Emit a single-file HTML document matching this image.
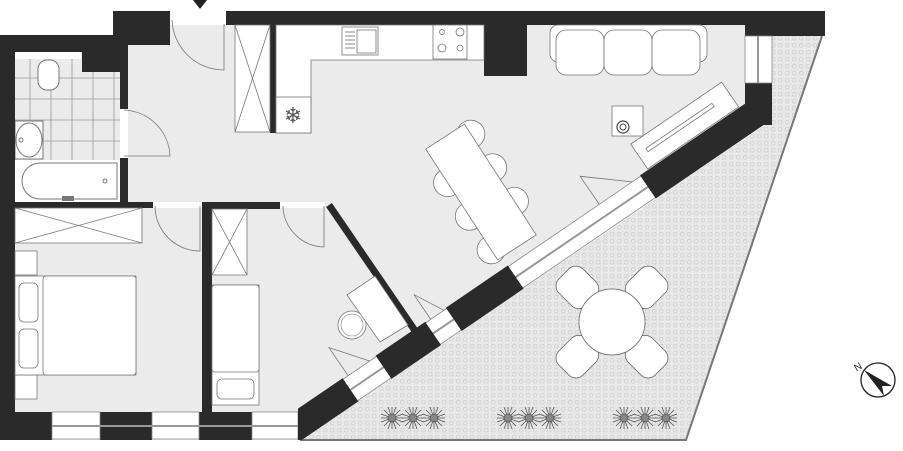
<!DOCTYPE html>
<html><head><meta charset="utf-8"><style>html,body{margin:0;padding:0;background:#fff}svg{display:block}</style></head>
<body>
<svg width="903" height="451" viewBox="0 0 903 451" xmlns="http://www.w3.org/2000/svg">
<defs>
<pattern id="tp" width="7" height="7" patternUnits="userSpaceOnUse">
<rect width="7" height="7" fill="#e8e8e8"/>
<rect x="1.5" y="1.5" width="3.5" height="3.5" rx="1" fill="none" stroke="#cfcfcf" stroke-width="0.7"/>
</pattern>
<clipPath id="cl"><rect x="298" y="0" width="474" height="440"/></clipPath>
<g id="chair"><path d="M0,0 a14,14 0 1,0 0,-0.01" fill="#fff" stroke="#777" stroke-width="0.8"/></g>
<g id="plant" stroke="#555" stroke-width="0.8" fill="none">
<path d="M0,-11 L0,11 M-11,0 L11,0 M-8,-8 L8,8 M-8,8 L8,-8 M-4,-11 L4,11 M4,-11 L-4,11 M-11,-4 L11,4 M-11,4 L11,-4"/>
<circle r="4" fill="#888"/>
</g>
</defs>
<polygon points="128,25 745,25 745,115 300,440 15,440 15,52 128,52" fill="#ebebeb"/>
<rect x="15" y="52" width="105" height="150" fill="#ebebeb"/>
<g stroke="#9a9a9a" stroke-width="0.8">
<line x1="30" y1="58" x2="30" y2="160"/><line x1="51" y1="58" x2="51" y2="160"/><line x1="72" y1="58" x2="72" y2="160"/><line x1="93" y1="58" x2="93" y2="160"/><line x1="114" y1="58" x2="114" y2="160"/>
<line x1="15" y1="78" x2="120" y2="78"/><line x1="15" y1="99" x2="120" y2="99"/><line x1="15" y1="120" x2="120" y2="120"/><line x1="15" y1="141" x2="120" y2="141"/>
</g>
<rect x="15" y="52" width="66" height="7" fill="#fff"/>
<rect x="38" y="60" width="21" height="30" rx="9" fill="#fff" stroke="#777"/>
<rect x="15" y="121" width="28" height="38" fill="#fff" stroke="#777"/>
<ellipse cx="29" cy="140" rx="13" ry="17" fill="#fff" stroke="#777"/>
<circle cx="21" cy="140" r="2" fill="none" stroke="#777"/>
<rect x="15" y="160" width="105" height="42" fill="#fff"/>
<path d="M40,163 H117 V199 H40 A18,18 0 0,1 40,163 Z" fill="#fff" stroke="#777"/>
<circle cx="105" cy="181" r="2" fill="none" stroke="#777"/>
<rect x="62" y="196" width="12" height="5" fill="#777"/>
<polygon points="300,440 772,120 772,36 822,36 686,440" fill="url(#tp)"/>
<polyline points="822,36 686,440 300,440" fill="none" stroke="#777" stroke-width="2"/>
<g fill="#2a2a2a">
<rect x="113" y="11" width="57" height="34"/>
<rect x="226" y="11" width="599" height="14"/>
<rect x="745" y="11" width="80" height="25"/>
<rect x="82" y="35" width="46" height="37"/>
<rect x="0" y="35" width="82" height="17"/>
<rect x="0" y="35" width="15" height="405"/>
<rect x="120" y="72" width="8" height="37"/>
<rect x="120" y="158" width="8" height="50"/>
<rect x="15" y="202" width="138" height="6"/>
<rect x="202" y="202" width="78" height="7"/>
<rect x="202" y="202" width="10" height="210"/>
<rect x="270" y="25" width="6" height="108"/>
<rect x="484" y="25" width="43" height="51"/>
<rect x="745" y="83" width="27" height="42"/>
<rect x="0" y="412" width="52" height="28"/>
<rect x="100" y="412" width="52" height="28"/>
<rect x="199" y="412" width="53" height="28"/>
</g>
<line x1="329" y1="205" x2="420" y2="338" stroke="#2a2a2a" stroke-width="7"/>
<g fill="#fff" stroke="#888" stroke-width="0.8">
<rect x="52" y="412" width="48" height="27"/><rect x="152" y="412" width="47" height="27"/><rect x="252" y="412" width="46" height="27"/>
<rect x="745" y="36" width="27" height="47"/>
</g>
<g stroke="#999" stroke-width="2"><line x1="52" y1="426" x2="298" y2="426"/><line x1="758" y1="36" x2="758" y2="83"/></g>
<g clip-path="url(#cl)">
<g transform="translate(300,440) rotate(-34.3)">
<rect x="-30" y="-26" width="602" height="26" fill="#fff" stroke="#888" stroke-width="0.8"/>
<line x1="0" y1="-13" x2="572" y2="-13" stroke="#999" stroke-width="2"/>
<g fill="#2a2a2a">
<rect x="-40" y="-27" width="110" height="28"/>
<rect x="110" y="-27" width="60" height="28"/>
<rect x="195" y="-27" width="75" height="28"/>
<rect x="430" y="-27" width="145" height="28"/>
</g>
<path d="M76,-26 L76,-60 L102,-26" fill="none" stroke="#777" stroke-width="0.8"/>
<path d="M176,-26 L176,-56 L192,-26" fill="none" stroke="#777" stroke-width="0.8"/>
<path d="M380,-26 L380,-60 L420,-26" fill="none" stroke="#777" stroke-width="0.8"/>
<rect x="440" y="-58" width="110" height="30" fill="#fff" stroke="#777" stroke-width="0.8"/>
<rect x="450" y="-46" width="80" height="4" fill="#fff" stroke="#777" stroke-width="0.8"/>
</g>
</g>
<polygon points="193,0 207,0 200,9" fill="#222"/>
<rect x="170" y="11" width="56" height="13" fill="#fff"/>
<path d="M224,24 V70 A52,52 0 0,1 172,20" fill="none" stroke="#777" stroke-width="0.8"/>
<rect x="120" y="109" width="8" height="49" fill="#fff"/>
<path d="M124,110 A48,48 0 0,1 170,156 H124" fill="none" stroke="#777" stroke-width="0.8"/>
<rect x="153" y="202" width="49" height="6" fill="#fff"/>
<path d="M155,206 A45,45 0 0,0 200,251 V206" fill="none" stroke="#777" stroke-width="0.8"/>
<rect x="280" y="202" width="45" height="6" fill="#fff"/>
<path d="M283,206 A42,42 0 0,0 324,247 V206" fill="none" stroke="#777" stroke-width="0.8"/>
<g fill="#fff" stroke="#777" stroke-width="0.8">
<rect x="235" y="25" width="35" height="107"/>
<path d="M235,25 L270,132 M270,25 L235,132"/>
<rect x="15" y="208" width="127" height="35"/>
<path d="M15,208 L142,243 M142,208 L15,243"/>
<rect x="212" y="209" width="35" height="66"/>
<path d="M212,209 L247,275 M247,209 L212,275"/>
</g>
<path d="M276,25 H484 V60 H311 V133 H276 Z" fill="#fff" stroke="#777" stroke-width="0.8"/>
<rect x="276" y="97" width="35" height="36" fill="#fff" stroke="#777" stroke-width="0.8"/>
<text x="293" y="123" font-family="DejaVu Sans, sans-serif" font-size="22" text-anchor="middle" fill="#555">❄</text>
<rect x="342" y="27" width="36" height="28" fill="#fff" stroke="#777" stroke-width="0.8"/>
<rect x="357" y="30" width="19" height="23" fill="#fff" stroke="#777" stroke-width="0.8"/>
<g stroke="#888"><line x1="345" y1="32" x2="355" y2="32"/><line x1="345" y1="36" x2="355" y2="36"/><line x1="345" y1="40" x2="355" y2="40"/><line x1="345" y1="44" x2="355" y2="44"/><line x1="345" y1="48" x2="355" y2="48"/></g>
<rect x="433" y="25" width="34" height="34" fill="#fff" stroke="#777" stroke-width="0.8"/>
<g fill="none" stroke="#777" stroke-width="0.8"><circle cx="442" cy="32" r="2.5"/><circle cx="442" cy="48" r="4"/><circle cx="460" cy="32" r="4"/><circle cx="460" cy="48" r="3"/></g>
<g fill="#fff" stroke="#777" stroke-width="0.8">
<rect x="550" y="25" width="157" height="37" rx="8"/>
<rect x="556" y="30" width="48" height="45" rx="10"/>
<rect x="604" y="30" width="48" height="45" rx="10"/>
<rect x="652" y="30" width="48" height="45" rx="10"/>
<rect x="612" y="106" width="31" height="30"/>
</g>
<circle cx="623" cy="127" r="6" fill="none" stroke="#444" stroke-width="1.2"/><circle cx="623" cy="127" r="3" fill="none" stroke="#444"/>
<g transform="translate(481,192) rotate(57)">
<use href="#chair" transform="translate(-40,-23) rotate(180)"/>
<use href="#chair" transform="translate(0,-23) rotate(180)"/>
<use href="#chair" transform="translate(40,-23) rotate(180)"/>
<use href="#chair" transform="translate(-40,23)"/>
<use href="#chair" transform="translate(0,23)"/>
<use href="#chair" transform="translate(40,23)"/>
<rect x="-66" y="-23" width="132" height="46" fill="#fff" stroke="#777" stroke-width="0.8"/>
</g>
<g fill="#fff" stroke="#777" stroke-width="0.8">
<rect x="15" y="251" width="22" height="24"/><rect x="15" y="375" width="22" height="24"/>
<rect x="15" y="276" width="121" height="99"/>
<rect x="43" y="276" width="93" height="99" rx="3"/>
<rect x="19" y="283" width="19" height="39" rx="5"/><rect x="19" y="329" width="19" height="39" rx="5"/>
<rect x="212" y="285" width="47" height="120"/>
<rect x="212" y="285" width="47" height="87" rx="3"/>
<rect x="217" y="379" width="37" height="20" rx="5"/>
</g>
<circle cx="352" cy="325" r="14" fill="#fff" stroke="#777" stroke-width="0.8"/>
<circle cx="352" cy="325" r="11" fill="none" stroke="#777" stroke-width="0.6"/>
<polygon points="347,295 375,276 408,325 380,342" fill="#fff" stroke="#777" stroke-width="0.8"/>
<g fill="#fff" stroke="#666" stroke-width="0.8">
<g transform="translate(612,322)">
<rect x="-17" y="-68" width="34" height="38" rx="10" transform="rotate(-45)"/>
<rect x="-17" y="-68" width="34" height="38" rx="10" transform="rotate(45)"/>
<rect x="-17" y="-68" width="34" height="38" rx="10" transform="rotate(135)"/>
<rect x="-17" y="-68" width="34" height="38" rx="10" transform="rotate(-135)"/>
<circle r="33"/>
</g>
</g>
<g>
<use href="#plant" x="392" y="418"/><use href="#plant" x="413" y="418"/><use href="#plant" x="434" y="418"/>
<use href="#plant" x="508" y="418"/><use href="#plant" x="529" y="418"/><use href="#plant" x="550" y="418"/>
<use href="#plant" x="624" y="418"/><use href="#plant" x="645" y="418"/><use href="#plant" x="666" y="418"/>
</g>
<circle cx="878" cy="380" r="17" fill="#fff" stroke="#222" stroke-width="1.3"/>
<polygon points="864,370 892,386 882,386 884,396" fill="#222"/>
<text x="854" y="370" font-family="Liberation Sans, sans-serif" font-size="10" fill="#222" transform="rotate(-30 858 366)">N</text>
</svg>
</body></html>
